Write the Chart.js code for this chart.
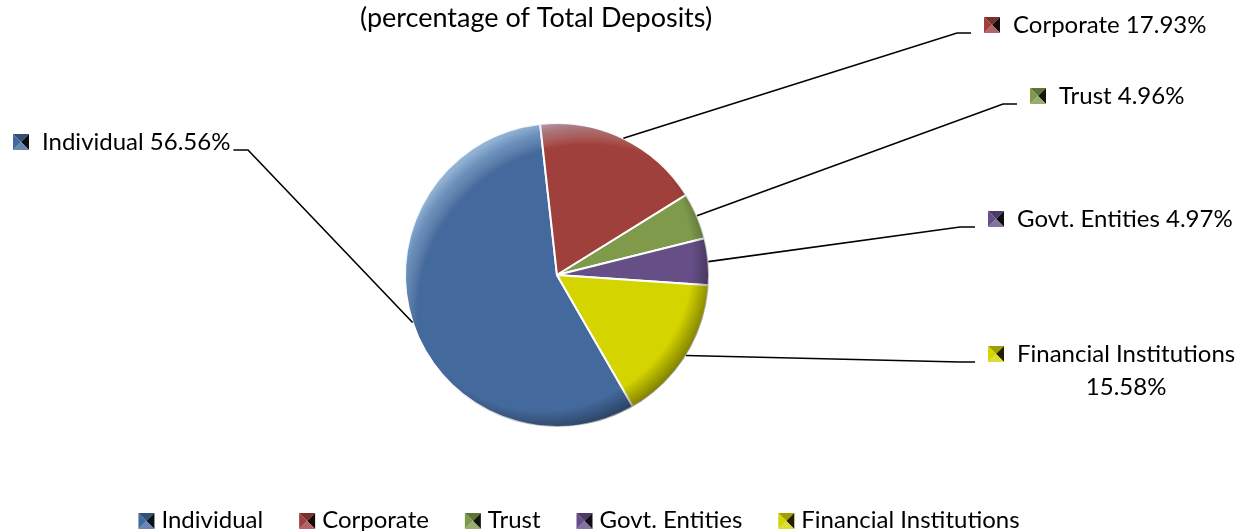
<!DOCTYPE html>
<html>
<head>
<meta charset="utf-8">
<script src="https://cdn.jsdelivr.net/npm/chart.js@4"></script>
<style>
  html, body { margin: 0; padding: 0; background: #fff; }
  #wrap { width: 1243px; height: 531px; }
</style>
</head>
<body>
<div id="wrap"><canvas id="chart" width="1243" height="531"></canvas></div>
<script>
// data
const categories = ["Individual", "Corporate", "Trust", "Govt. Entities", "Financial Institutions"];
const shares = [56.56, 17.93, 4.96, 4.97, 15.58];
const shareLabels = ["56.56%", "17.93%", "4.96%", "4.97%", "15.58%"];
const sliceColors = ["#44699c", "#a0403c", "#7e9a4a", "#654f86", "#d4d400"];
const titleText = "(percentage of Total Deposits)";

// where the callouts sit (x of icon, text baseline, elbow of the leader line)
const calloutLayout = [
  { side: "left",  x: 13,   base: 150, bend: 248 },
  { side: "right", x: 984,  base: 33,  bend: 957 },
  { side: "right", x: 1030, base: 104, bend: 1003 },
  { side: "right", x: 988,  base: 227, bend: 960 },
  { side: "right", x: 988,  base: 362, bend: 960, wrap: true }
];

const FONT = "24px Lato, 'Open Sans', sans-serif";
const TITLE_FONT = "27px Lato, 'Open Sans', sans-serif";

function mix(hex, target, f) {
  const n = parseInt(hex.slice(1), 16);
  const r = (n >> 16) & 255, g = (n >> 8) & 255, b = n & 255;
  const t = target === "white" ? 255 : 0;
  const m = v => Math.round(v + (t - v) * f);
  return "rgb(" + m(r) + "," + m(g) + "," + m(b) + ")";
}

// little pyramid-style square used by Excel for legend keys
function drawKey(ctx, x, y, s, color) {
  const cx = x + s / 2, cy = y + s / 2;
  const tri = (ax, ay, bx, by, fill) => {
    ctx.beginPath();
    ctx.moveTo(ax, ay); ctx.lineTo(bx, by); ctx.lineTo(cx, cy);
    ctx.closePath();
    ctx.fillStyle = fill;
    ctx.fill();
  };
  tri(x, y, x + s, y, mix(color, "black", 0.25));         // top
  tri(x + s, y, x + s, y + s, mix(color, "black", 0.85)); // right
  tri(x + s, y + s, x, y + s, mix(color, "white", 0.2));  // bottom
  tri(x, y + s, x, y, color);                             // left
  ctx.fillStyle = "#000";
}

const decorPlugin = {
  id: "decor",
  afterDatasetsDraw(chart) {
    const ctx = chart.ctx;
    const meta = chart.getDatasetMeta(0);
    const arc0 = meta.data[0].getProps(["x", "y", "outerRadius"], true);
    const cx = arc0.x, cy = arc0.y, R = arc0.outerRadius;

    // bevel shading over the pie
    ctx.save();
    ctx.beginPath();
    ctx.arc(cx, cy, R, 0, Math.PI * 2);
    ctx.clip();
    const hx = cx + R * 0.2, hy = cy + R * 0.26;
    let g = ctx.createRadialGradient(hx, hy, 0, hx, hy, R * 1.3);
    g.addColorStop(0, "rgba(255,255,255,0)");
    g.addColorStop(0.86, "rgba(255,255,255,0)");
    g.addColorStop(0.94, "rgba(190,225,255,0.3)");
    g.addColorStop(1, "rgba(210,235,255,0.55)");
    ctx.fillStyle = g;
    ctx.fillRect(cx - R, cy - R, 2 * R, 2 * R);
    g = ctx.createRadialGradient(cx - R * 0.1, cy - R * 0.1, 0, cx - R * 0.1, cy - R * 0.1, R * 1.14);
    g.addColorStop(0, "rgba(0,0,0,0)");
    g.addColorStop(0.87, "rgba(0,0,0,0)");
    g.addColorStop(1, "rgba(0,0,0,0.4)");
    ctx.fillStyle = g;
    ctx.fillRect(cx - R, cy - R, 2 * R, 2 * R);
    ctx.restore();

    // callouts with leader lines
    ctx.save();
    ctx.font = FONT;
    ctx.textBaseline = "alphabetic";
    ctx.strokeStyle = "#000";
    ctx.lineWidth = 1.6;
    meta.data.forEach((arc, i) => {
      const p = arc.getProps(["x", "y", "startAngle", "endAngle", "outerRadius"], true);
      const mid = (p.startAngle + p.endAngle) / 2;
      const sx = p.x + Math.cos(mid) * p.outerRadius;
      const sy = p.y + Math.sin(mid) * p.outerRadius;
      const L = calloutLayout[i];
      const label = L.wrap ? categories[i] : categories[i] + " " + shareLabels[i];
      drawKey(ctx, L.x, L.base - 16, 16, sliceColors[i]);
      ctx.fillStyle = "#000";
      ctx.textAlign = "left";
      const tx = L.x + 29;
      ctx.fillText(label, tx, L.base);
      let lineEnd;
      if (L.side === "left") {
        lineEnd = tx + ctx.measureText(label).width + 3;
      } else {
        if (L.wrap) {
          const w = ctx.measureText(label).width;
          ctx.textAlign = "center";
          ctx.fillText(shareLabels[i], tx + w / 2, L.base + 33);
        }
        lineEnd = L.x - 13;
      }
      ctx.beginPath();
      ctx.moveTo(sx, sy);
      ctx.lineTo(L.bend, L.base);
      ctx.lineTo(lineEnd, L.base);
      ctx.stroke();
    });
    ctx.restore();
  },
  afterDraw(chart) {
    const ctx = chart.ctx;
    ctx.save();
    ctx.font = TITLE_FONT;
    ctx.fillStyle = "#000";
    ctx.textAlign = "center";
    ctx.fillText(titleText, 536, 27);

    // bottom legend
    ctx.font = FONT;
    ctx.textAlign = "left";
    const key = 16, gap = 7, spacing = 36;
    const widths = categories.map(c => key + gap + ctx.measureText(c).width);
    const total = widths.reduce((a, b) => a + b, 0) + spacing * (categories.length - 1);
    let x = 579 - total / 2;
    categories.forEach((c, i) => {
      drawKey(ctx, x, 513, key, sliceColors[i]);
      ctx.fillText(c, x + key + gap, 528);
      x += widths[i] + spacing;
    });
    ctx.restore();
  }
};

new Chart(document.getElementById("chart"), {
  type: "pie",
  data: {
    labels: categories,
    datasets: [{
      data: shares,
      backgroundColor: sliceColors,
      borderColor: "#ffffff",
      borderWidth: 2,
      hoverOffset: 0
    }]
  },
  options: {
    responsive: false,
    animation: false,
    events: [],
    rotation: 150,
    layout: { padding: { top: 122, bottom: 103, left: 357, right: 486 } },
    plugins: {
      legend: { display: false },
      title: { display: false },
      tooltip: { enabled: false }
    }
  },
  plugins: [decorPlugin]
});
</script>
</body>
</html>
